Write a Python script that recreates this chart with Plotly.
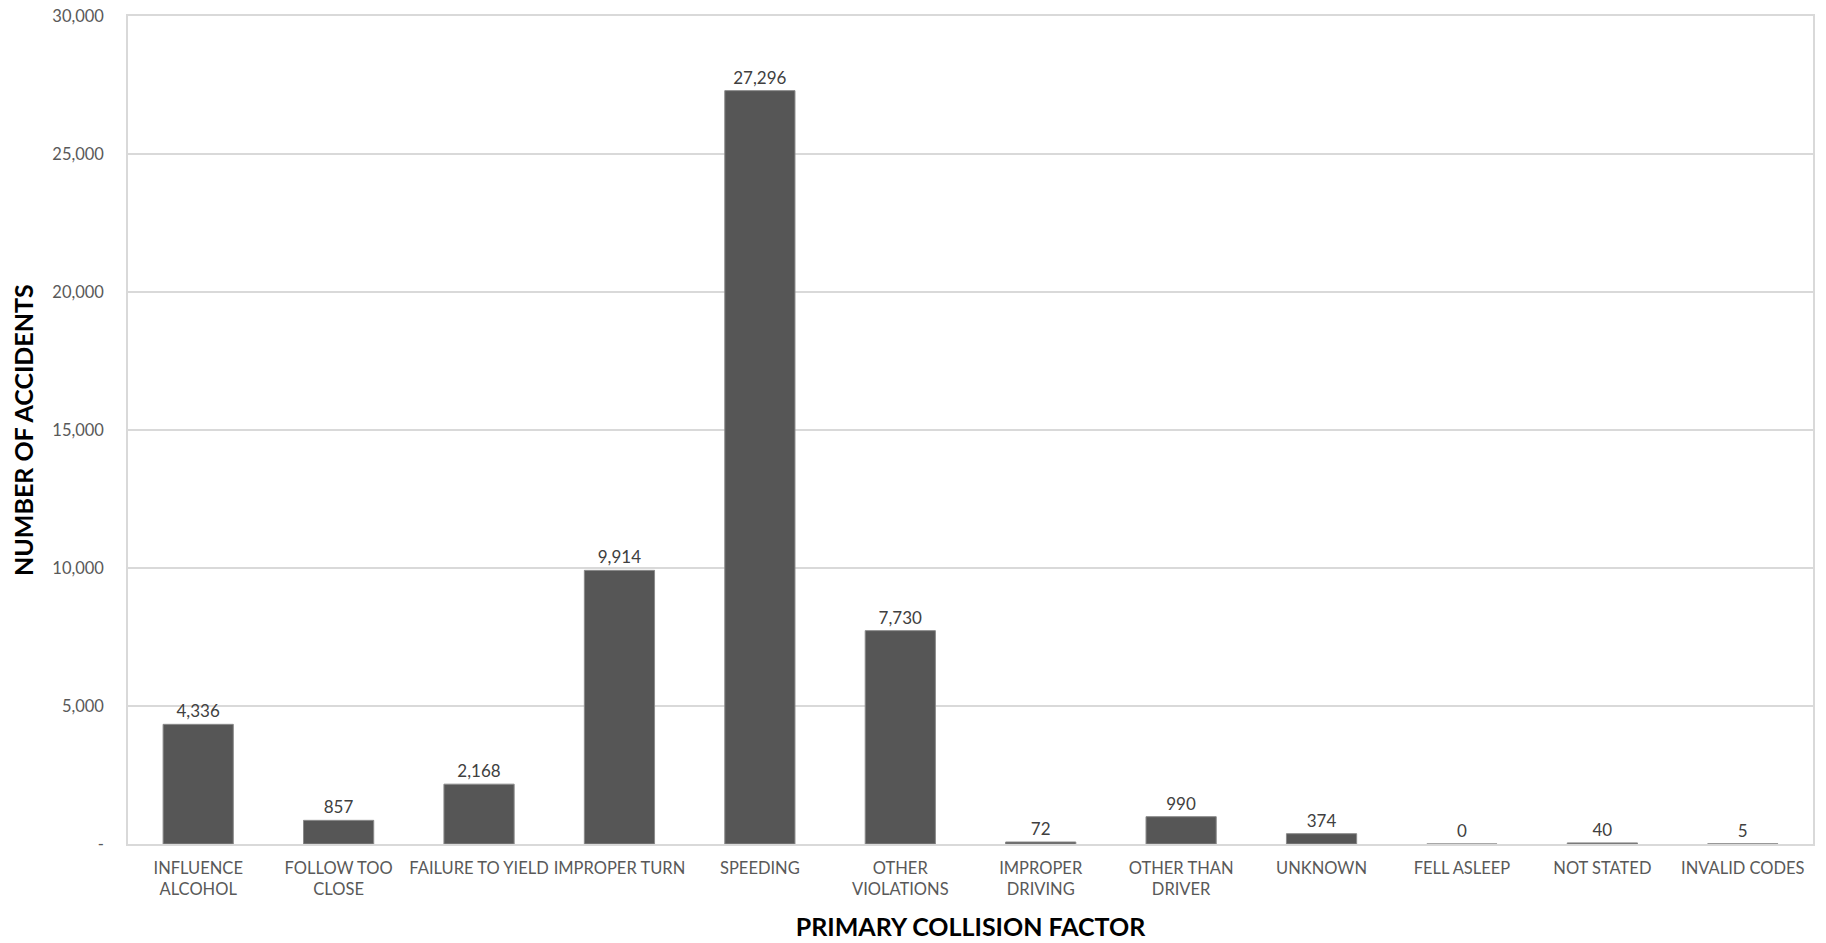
import plotly.graph_objects as go

categories = ["INFLUENCE<br>ALCOHOL", "FOLLOW TOO<br>CLOSE", "FAILURE TO YIELD", "IMPROPER TURN",
              "SPEEDING", "OTHER<br>VIOLATIONS", "IMPROPER<br>DRIVING", "OTHER THAN<br>DRIVER",
              "UNKNOWN", "FELL ASLEEP", "NOT STATED", "INVALID CODES"]
values = [4336, 857, 2168, 9914, 27296, 7730, 72, 990, 374, 0, 40, 5]
tick_vals = [0, 5000, 10000, 15000, 20000, 25000, 30000]
tick_text = ["-", "5,000", "10,000", "15,000", "20,000", "25,000", "30,000"]

FONT = "Lato, 'Open Sans', sans-serif"

fig = go.Figure(go.Bar(
    x=categories, y=values, width=0.5,
    marker=dict(color="#565656", line=dict(color="#8a8a8a", width=1)),
    text=[f"{v:,}" for v in values], textposition="outside",
    textfont=dict(family=FONT, size=17, color="#404040"),
    cliponaxis=False,
))

fig.update_layout(
    width=1826, height=943,
    paper_bgcolor="white", plot_bgcolor="white",
    margin=dict(l=128, r=13, t=16, b=99, autoexpand=False),
    showlegend=False,
    font=dict(family=FONT),
)
fig.add_annotation(
    text="<b>NUMBER OF ACCIDENTS</b>", textangle=-90,
    xref="paper", yref="paper", x=-0.0623, y=0.5,
    xanchor="center", yanchor="middle", showarrow=False,
    font=dict(family=FONT, size=25, color="black"),
)
fig.update_xaxes(
    automargin=False, tickangle=0,
    showline=True, linecolor="#d9d9d9", linewidth=1.5, mirror=True,
    tickfont=dict(family=FONT, size=16.5, color="#595959"),
    ticks="", ticklabelstandoff=8,
    title=dict(text="<b>PRIMARY COLLISION FACTOR</b>",
               font=dict(family=FONT, size=25, color="black"), standoff=20),
)
fig.update_yaxes(
    automargin=False,
    range=[0, 30000], tickvals=tick_vals, ticktext=tick_text,
    showgrid=True, gridcolor="#d9d9d9", gridwidth=1.5,
    showline=True, linecolor="#d9d9d9", linewidth=1.5, mirror=True,
    zeroline=False,
    tickfont=dict(family=FONT, size=16.5, color="#595959"),
    ticks="", ticklabelstandoff=19,
)

fig.write_html("out.html", config={"displayModeBar": False},
               post_script="document.body.style.margin='0';")
